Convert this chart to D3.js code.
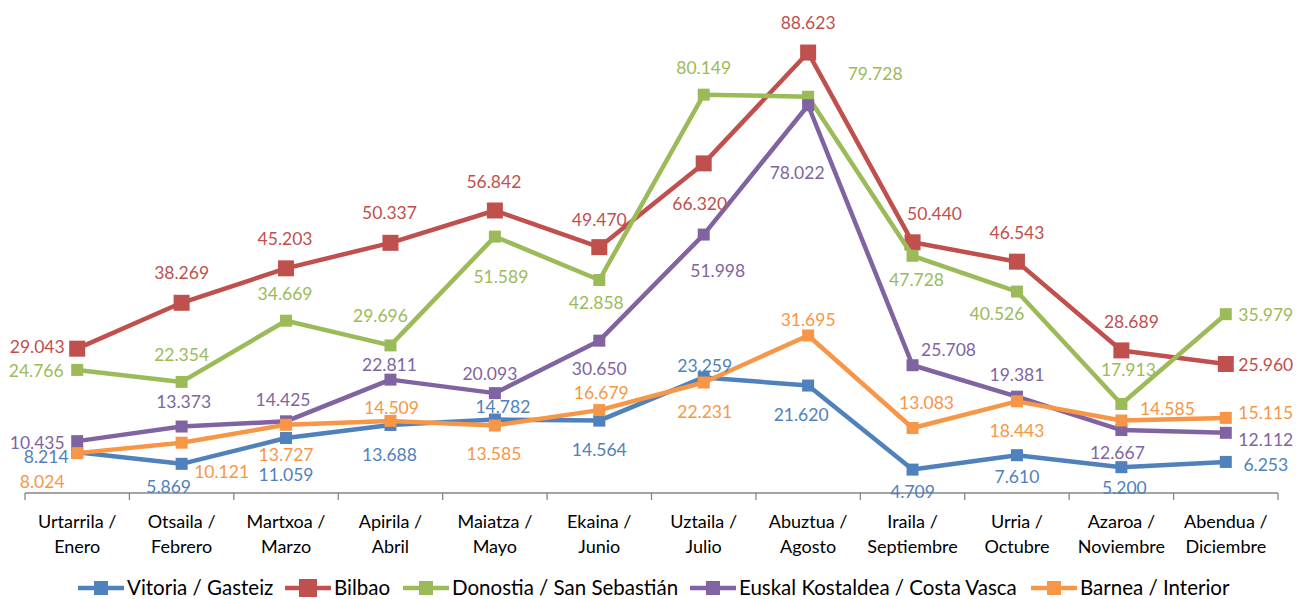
<!DOCTYPE html>
<html>
<head>
<meta charset="utf-8">
<script src="https://cdn.jsdelivr.net/npm/d3@7"></script>
<style>
  body { margin: 0; background: #fff; }
  svg text { font-family: Lato, "Open Sans", sans-serif; }
</style>
</head>
<body>
<svg width="1296" height="599"></svg>
<script>
// months (two-line axis labels)
var months = ["Urtarrila / Enero", "Otsaila / Febrero", "Martxoa / Marzo", "Apirila / Abril",
  "Maiatza / Mayo", "Ekaina / Junio", "Uztaila / Julio", "Abuztua / Agosto",
  "Iraila / Septiembre", "Urria / Octubre", "Azaroa / Noviembre", "Abendua / Diciembre"];

var seriesNames = ["Vitoria / Gasteiz", "Bilbao", "Donostia / San Sebastián",
  "Euskal Kostaldea / Costa Vasca", "Barnea / Interior"];

var vitoria  = [8.214, 5.869, 11.059, 13.688, 14.782, 14.564, 23.259, 21.620, 4.709, 7.610, 5.200, 6.253];
var bilbao   = [29.043, 38.269, 45.203, 50.337, 56.842, 49.470, 66.320, 88.623, 50.440, 46.543, 28.689, 25.960];
var donostia = [24.766, 22.354, 34.669, 29.696, 51.589, 42.858, 80.149, 79.728, 47.728, 40.526, 17.913, 35.979];
var kosta    = [10.435, 13.373, 14.425, 22.811, 20.093, 30.650, 51.998, 78.022, 25.708, 19.381, 12.667, 12.112];
var barnea   = [8.024, 10.121, 13.727, 14.509, 13.585, 16.679, 22.231, 31.695, 13.083, 18.443, 14.585, 15.115];

// styling, kept apart from the data
var colors = ["#4F81BD", "#C0504D", "#9BBB59", "#8064A2", "#F79646"];
var markerSize = [12, 16, 12, 12, 12];

// label offsets from each point [dx, dy] (hand placed, as in the original)
var labelOffsets = [
  [[-31, 5], [-13, 23], [0, 37], [-1, 30], [8, -13], [0, 29], [1, -12], [-7, 29], [0, 22], [0, 22], [3, 21], [40, 3]],
  [[-40, -2], [0, -30], [-1, -29], [-1, -30], [-1, -29], [0, -27], [-4, 40], [0, -30], [22, -28], [0, -29], [10, -29], [40, 1]],
  [[-41, 1], [0, -27], [-1, -27], [-10, -30], [6, 40], [-3, 23], [0, -27], [67, -23], [4, 24], [-20, 22], [7, -34], [40, 1]],
  [[-40, 2], [2, -25], [-3, -21], [-1, -15], [-5, -19], [0, 28], [14, 36], [-11, 68], [36, -15], [0, -22], [-4, 23], [40, 7]],
  [[-35, 29], [40, 29], [0, 30], [1, -13], [-1, 28], [2, -17], [1, 29], [0, -16], [14, -25], [0, 30], [46, -12], [40, -5]]
];

var allValues = [vitoria, bilbao, donostia, kosta, barnea];
var series = seriesNames.map(function (name, i) {
  return { name: name, values: allValues[i], color: colors[i], size: markerSize[i], offsets: labelOffsets[i] };
});

var svg = d3.select("svg");

var x = d3.scaleBand().domain(months).range([25, 1278]).padding(0);
var y = d3.scaleLinear().domain([0, 100]).range([493, -4]);
var cx = function (m) { return x(m) + x.bandwidth() / 2; };

// x axis: line + ticks between categories
var axisG = svg.append("g").attr("transform", "translate(0," + y(0) + ")");
axisG.append("line")
  .attr("x1", x.range()[0]).attr("x2", x.range()[1])
  .attr("stroke", "#868686").attr("stroke-width", 1.3);
var edges = months.map(function (m) { return x(m); }).concat([x.range()[1]]);
axisG.selectAll(".tk").data(edges).enter().append("line")
  .attr("x1", function (d) { return d; }).attr("x2", function (d) { return d; })
  .attr("y1", 0).attr("y2", 7)
  .attr("stroke", "#868686").attr("stroke-width", 1.3);

var catLabels = axisG.selectAll(".cat").data(months).enter().append("text")
  .attr("text-anchor", "middle")
  .attr("font-size", "18px")
  .attr("fill", "#000");
catLabels.append("tspan")
  .attr("x", cx).attr("y", 35)
  .text(function (d) { return d.split(" / ")[0] + " /"; });
catLabels.append("tspan")
  .attr("x", cx).attr("y", 60)
  .text(function (d) { return d.split(" / ")[1]; });

// lines and markers
var line = d3.line()
  .x(function (d, i) { return cx(months[i]); })
  .y(function (d) { return y(d); });

var sg = svg.selectAll(".series").data(series).enter().append("g");
sg.append("path")
  .attr("d", function (s) { return line(s.values); })
  .attr("fill", "none")
  .attr("stroke", function (s) { return s.color; })
  .attr("stroke-width", 4.5)
  .attr("stroke-linejoin", "round");
sg.selectAll("rect").data(function (s) {
  return s.values.map(function (v, i) { return { v: v, i: i, s: s }; });
}).enter().append("rect")
  .attr("x", function (d) { return cx(months[d.i]) - d.s.size / 2; })
  .attr("y", function (d) { return y(d.v) - d.s.size / 2; })
  .attr("width", function (d) { return d.s.size; })
  .attr("height", function (d) { return d.s.size; })
  .attr("fill", function (d) { return d.s.color; });

// data labels on top
var fmt = function (v) { return d3.format(".3f")(v); };
var lg = svg.selectAll(".labels").data(series).enter().append("g");
lg.selectAll("text").data(function (s) {
  return s.values.map(function (v, i) { return { v: v, i: i, s: s }; });
}).enter().append("text")
  .attr("x", function (d) { return cx(months[d.i]) + d.s.offsets[d.i][0]; })
  .attr("y", function (d) { return y(d.v) + d.s.offsets[d.i][1]; })
  .attr("dy", "0.35em")
  .attr("text-anchor", "middle")
  .attr("font-size", "17.5px")
  .attr("fill", function (d) { return d.s.color; })
  .text(function (d) { return fmt(d.v); });

// legend
var legendX = [78, 285, 403, 690, 1031];
var legend = svg.append("g").attr("transform", "translate(0,588)");
var li = legend.selectAll("g").data(series).enter().append("g")
  .attr("transform", function (d, i) { return "translate(" + legendX[i] + ",0)"; });
li.append("line")
  .attr("x1", 0).attr("x2", 46)
  .attr("stroke", function (d) { return d.color; })
  .attr("stroke-width", 4.5);
li.append("rect")
  .attr("x", function (d) { return 23 - (d.size + 2) / 2; })
  .attr("y", function (d) { return -(d.size + 2) / 2; })
  .attr("width", function (d) { return d.size + 2; })
  .attr("height", function (d) { return d.size + 2; })
  .attr("fill", function (d) { return d.color; });
li.append("text")
  .attr("x", 49)
  .attr("dy", "0.35em")
  .attr("font-size", "20.5px")
  .attr("fill", "#000")
  .text(function (d) { return d.name; });
</script>
</body>
</html>
